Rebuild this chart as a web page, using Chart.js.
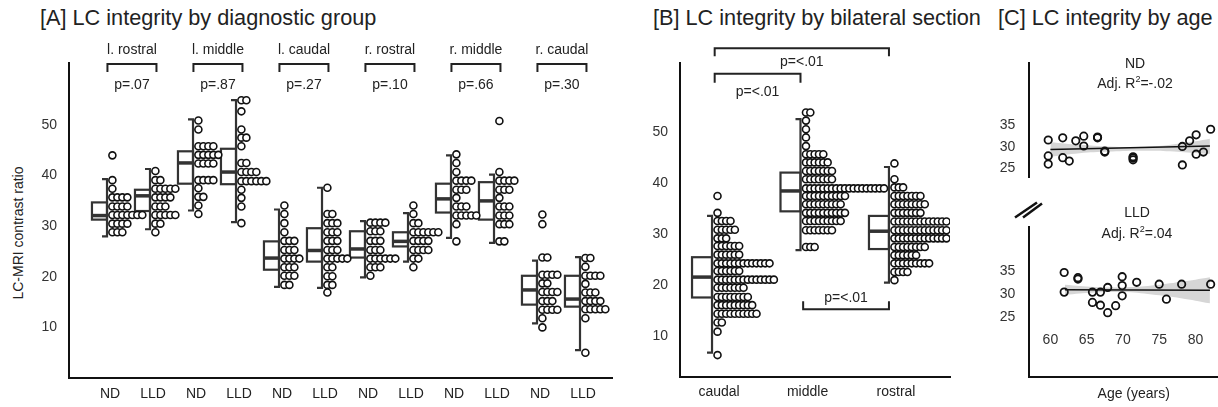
<!DOCTYPE html>
<html>
<head>
<meta charset="utf-8">
<script src="https://cdn.jsdelivr.net/npm/chart.js@4.4.1/dist/chart.umd.min.js"></script>
<style>
html, body { margin: 0; padding: 0; width: 1218px; height: 407px; overflow: hidden; background: #fff;
  font-family: "Liberation Sans", Arial, sans-serif; color: #222; }
.abs { position: absolute; white-space: nowrap; }
.title { font-size: 21.7px; line-height: 26px; top: 5px; }
.note { font-size: 14px; line-height: 16px; transform: translate(-50%, -50%); text-align: center; }
.note sup { font-size: 9px; vertical-align: 6px; line-height: 0; }
canvas { position: absolute; }
</style>
</head>
<body>
<div class="abs title" style="left:40px">[A] LC integrity by diagnostic group</div>
<div class="abs title" style="left:653px">[B] LC integrity by bilateral section</div>
<div class="abs title" style="left:998px">[C] LC integrity by age</div>
<div class="abs" style="left:18px;top:233px;font-size:14px;transform:translate(-50%,-50%) rotate(-90deg)">LC-MRI contrast ratio</div>

<canvas id="chartA" width="625" height="407" style="left:0;top:0"></canvas>
<canvas id="chartB" width="330" height="407" style="left:630px;top:0"></canvas>
<canvas id="chartND" width="269" height="200" style="left:975px;top:0"></canvas>
<canvas id="chartLLD" width="269" height="212" style="left:975px;top:195px"></canvas>

<div class="abs note" style="left:1135px;top:63px">ND</div>
<div class="abs note" style="left:1135px;top:83px">Adj. R<sup>2</sup>=-.02</div>
<div class="abs note" style="left:1137px;top:212px">LLD</div>
<div class="abs note" style="left:1137px;top:233px">Adj. R<sup>2</sup>=.04</div>
<svg class="abs" style="left:1010px;top:198px" width="40" height="26">
  <line x1="5" y1="19.5" x2="27" y2="4.5" stroke="#111" stroke-width="2.5"/>
  <line x1="13" y1="19.5" x2="32" y2="5.5" stroke="#111" stroke-width="2.5"/>
</svg>

<script>
// ---- [A] by diagnostic group ----
const sectionLabelsA = ['l. rostral', 'l. middle', 'l. caudal', 'r. rostral', 'r. middle', 'r. caudal'];
const groupLabelsA = ['ND', 'LLD', 'ND', 'LLD', 'ND', 'LLD', 'ND', 'LLD', 'ND', 'LLD', 'ND', 'LLD'];
const pValuesA = ['p=.07', 'p=.87', 'p=.27', 'p=.10', 'p=.66', 'p=.30'];
const yTicksA = [10, 20, 30, 40, 50];

// box statistics (whisker low, q1, median, q3, whisker high)
const loA  = [28.0, 29.4, 33.1, 30.8, 18.0, 17.8, 19.9, 23.0, 27.7, 26.7, 10.8, 5.5];
const q1A  = [31.3, 33.0, 38.4, 38.3, 21.4, 23.0, 23.8, 26.0, 32.7, 31.3, 14.5, 14.1];
const medA = [32.1, 36.0, 42.5, 40.7, 23.7, 25.2, 25.5, 27.0, 35.4, 35.0, 17.4, 15.6];
const q3A  = [34.7, 37.2, 44.8, 45.3, 27.0, 29.6, 29.0, 28.8, 38.4, 38.7, 20.2, 20.2];
const hiA  = [39.3, 41.3, 51.1, 54.9, 33.3, 37.6, 31.0, 32.6, 44.0, 40.2, 23.2, 23.9];

// dot rows: [value, number of dots]
const lRostralND  = [[44.0,1],[39.1,1],[37.4,1],[35.7,4],[33.9,4],[32.2,7],[30.5,4],[28.8,3]];
const lRostralLLD = [[40.9,1],[39.1,2],[37.4,5],[35.7,4],[33.9,3],[32.2,5],[30.5,2],[28.8,1]];
const lMiddleND   = [[50.9,1],[49.1,1],[45.8,4],[44.1,5],[42.4,4],[39.1,4],[37.5,1],[35.8,2],[34.1,1],[32.4,1]];
const lMiddleLLD  = [[54.9,2],[52.7,1],[49.1,1],[47.5,2],[45.8,1],[42.5,2],[40.7,4],[38.9,6],[37.2,1],[35.6,1],[33.9,1],[30.6,1]];
const lCaudalND   = [[34.1,1],[32.4,1],[30.6,1],[28.8,1],[27.1,3],[25.3,3],[23.6,4],[21.9,3],[20.2,3],[18.4,2]];
const lCaudalLLD  = [[37.6,1],[32.4,2],[30.6,3],[28.8,3],[27.1,3],[25.3,3],[23.6,5],[21.9,2],[20.1,2],[18.4,2],[16.9,1]];
const rRostralND  = [[30.7,4],[29.0,3],[27.1,3],[25.3,3],[23.6,6],[21.9,3],[20.2,1]];
const rRostralLLD = [[34.1,1],[32.4,1],[30.6,2],[28.8,6],[27.1,4],[25.3,4],[23.6,2],[21.9,1]];
const rMiddleND   = [[44.2,1],[42.5,1],[40.7,1],[39.0,4],[37.2,3],[35.6,1],[33.9,3],[32.1,5],[30.4,1],[27.0,1]];
const rMiddleLLD  = [[50.8,1],[40.7,1],[39.0,4],[37.2,3],[35.6,1],[33.9,3],[32.1,3],[30.4,3],[27.0,2]];
const rCaudalND   = [[32.3,1],[30.4,1],[23.8,2],[20.4,4],[18.7,2],[17.0,4],[15.2,3],[13.5,4],[11.8,1],[10.0,1]];
const rCaudalLLD  = [[23.7,2],[22.0,1],[20.2,4],[18.6,1],[16.9,3],[15.2,4],[13.6,5],[11.8,1],[5.0,1]];
const dotsA = [lRostralND, lRostralLLD, lMiddleND, lMiddleLLD, lCaudalND, lCaudalLLD,
               rRostralND, rRostralLLD, rMiddleND, rMiddleLLD, rCaudalND, rCaudalLLD];

// ---- [B] by bilateral section ----
const sectionsB = ['caudal', 'middle', 'rostral'];
const yTicksB = [10, 20, 30, 40, 50];
const loB  = [6.7, 26.8, 20.4];
const q1B  = [17.5, 34.4, 27.0];
const medB = [21.5, 38.4, 30.5];
const q3B  = [25.4, 42.0, 33.5];
const hiB  = [33.5, 52.5, 43.1];
const caudalDots  = [[37.4,1],[34.1,1],[32.5,4],[30.8,5],[29.1,3],[27.6,6],[25.9,6],[24.2,13],[22.7,6],
                     [21.0,14],[19.4,7],[17.6,8],[16.0,9],[14.3,10],[12.6,2],[10.8,1],[6.2,1]];
const middleDots  = [[53.8,2],[52.2,1],[50.5,1],[48.9,1],[47.2,1],[45.6,5],[44.0,6],[42.3,7],[40.7,7],
                     [38.9,19],[37.4,10],[35.8,9],[34.1,10],[32.5,9],[30.7,7],[27.4,3]];
const rostralDots = [[43.8,1],[40.7,1],[39.1,3],[37.4,7],[35.8,8],[34.1,7],[32.4,13],[30.7,13],[29.1,13],
                     [27.4,8],[25.8,6],[24.2,9],[22.5,4],[20.9,1]];
const dotsB = [caudalDots, middleDots, rostralDots];
const compFromB = [0, 0, 1];
const compToB   = [2, 1, 2];
const compPB    = ['p=<.01', 'p=<.01', 'p=<.01'];

// ---- [C] by age ----
const xTicksC = [60, 65, 70, 75, 80];
const yTicksC = [25, 30, 35];
const ndAge = [59.7, 59.7, 59.7, 61.7, 61.7, 62.6, 63.5, 64.6, 64.6, 66.5, 66.5, 67.5, 67.5,
               71.4, 71.4, 71.4, 78.2, 78.2, 79.2, 80.1, 80.1, 81.1, 82.1];
const ndLC  = [31.6, 27.9, 26.0, 32.1, 27.5, 26.7, 31.4, 32.5, 30.2, 32.1, 32.3, 28.8, 29.0,
               27.4, 27.0, 27.7, 30.1, 25.8, 31.4, 32.8, 28.3, 28.8, 34.1];
const lldAge = [61.9, 61.9, 63.8, 63.8, 65.8, 65.8, 66.9, 66.9, 67.9, 67.9, 69.0, 69.9, 69.9, 69.9,
                71.9, 75.0, 76.0, 78.1, 82.1];
const lldLC  = [34.6, 30.4, 33.5, 33.2, 30.4, 28.2, 30.4, 27.6, 31.4, 26.0, 27.5, 33.7, 31.8, 29.6,
                32.5, 32.1, 28.9, 32.1, 32.1];
const ndFitAge = [60, 82];
const ndFit    = [29.4, 30.2];
const lldFitAge = [62, 82];
const lldFit    = [30.9, 30.8];
const ndBandAge = [60, 64, 68, 72, 76, 80, 82];
const ndBandHi  = [31.1, 30.5, 30.1, 30.0, 30.4, 31.3, 31.9];
const ndBandLo  = [27.7, 28.5, 28.9, 29.1, 29.0, 28.6, 28.4];
const lldBandAge = [62, 66, 70, 74, 78, 82];
const lldBandHi  = [32.0, 31.5, 31.4, 31.8, 32.6, 33.6];
const lldBandLo  = [29.8, 30.3, 30.4, 29.9, 29.1, 28.0];

const FONT = '"Liberation Sans", Arial, sans-serif';
Chart.defaults.font.family = FONT;
Chart.defaults.color = '#333';

function dotPoints(groups, start, step) {
  const pts = [];
  groups.forEach((rows, g) => {
    rows.forEach(([v, n]) => {
      for (let k = 0; k < n; k++) pts.push({ x: g + start + k * step, y: v });
    });
  });
  return pts;
}

function pairs(xs, ys) {
  return xs.map((v, i) => ({ x: v, y: ys[i] }));
}

const boxPlugin = {
  id: 'boxes',
  beforeDatasetsDraw(chart, args, o) {
    const { ctx, scales: { x, y } } = chart;
    ctx.save();
    ctx.strokeStyle = '#333';
    o.med.forEach((m, i) => {
      const xr = x.getPixelForValue(i);
      const xl = x.getPixelForValue(i - o.width);
      ctx.lineWidth = 2.2;
      ctx.strokeRect(xl, y.getPixelForValue(o.q3[i]), xr - xl, y.getPixelForValue(o.q1[i]) - y.getPixelForValue(o.q3[i]));
      ctx.beginPath();
      ctx.moveTo(xr - 5, y.getPixelForValue(o.hi[i]));
      ctx.lineTo(xr, y.getPixelForValue(o.hi[i]));
      ctx.lineTo(xr, y.getPixelForValue(o.lo[i]));
      ctx.lineTo(xr - 5, y.getPixelForValue(o.lo[i]));
      ctx.stroke();
      ctx.lineWidth = 3.5;
      ctx.beginPath();
      ctx.moveTo(xl, y.getPixelForValue(m));
      ctx.lineTo(xr, y.getPixelForValue(m));
      ctx.stroke();
    });
    ctx.restore();
  }
};

function bracket(ctx, x0, x1, yb, tick) {
  ctx.beginPath();
  ctx.moveTo(x0, yb + tick);
  ctx.lineTo(x0, yb);
  ctx.lineTo(x1, yb);
  ctx.lineTo(x1, yb + tick);
  ctx.stroke();
}

function textSetup(ctx) {
  ctx.strokeStyle = '#222';
  ctx.lineWidth = 2;
  ctx.fillStyle = '#222';
  ctx.font = '14px ' + FONT;
  ctx.textAlign = 'center';
  ctx.textBaseline = 'middle';
}

const bracketsA = {
  id: 'bracketsA',
  afterDraw(chart) {
    const { ctx, chartArea, scales: { x } } = chart;
    ctx.save();
    textSetup(ctx);
    sectionLabelsA.forEach((lab, k) => {
      const x0 = x.getPixelForValue(2 * k + 0.01);
      const x1 = x.getPixelForValue(2 * k + 1.15);
      const yb = chartArea.top + 1;
      bracket(ctx, x0, x1, yb, 8);
      ctx.fillText(lab, (x0 + x1) / 2, yb - 14);
      ctx.fillText(pValuesA[k], (x0 + x1) / 2, yb + 21);
    });
    ctx.restore();
  }
};

const bracketsB = {
  id: 'bracketsB',
  afterDraw(chart, args, o) {
    const { ctx, scales: { x, y } } = chart;
    ctx.save();
    textSetup(ctx);
    compFromB.forEach((f, k) => {
      const x0 = x.getPixelForValue(f + 0.03);
      const x1 = x.getPixelForValue(compToB[k]);
      const yb = y.getPixelForValue(o.level[k]);
      bracket(ctx, x0, x1, yb, o.tick[k]);
      ctx.fillText(compPB[k], (x0 + x1) / 2, yb + o.text[k]);
    });
    ctx.restore();
  }
};

// age tick labels sit inside the plot, above the axis line
const innerAgeTicks = {
  id: 'innerAgeTicks',
  afterDraw(chart) {
    const { ctx, chartArea, scales: { x } } = chart;
    ctx.save();
    ctx.fillStyle = '#333';
    ctx.font = '14px ' + FONT;
    ctx.textAlign = 'center';
    ctx.textBaseline = 'middle';
    xTicksC.forEach(t => ctx.fillText(String(t), x.getPixelForValue(t), chartArea.bottom - 37));
    ctx.restore();
  }
};

const dotStyle = { pointRadius: 3.5, borderWidth: 1.6, borderColor: '#111', backgroundColor: '#fff', pointHoverRadius: 3.5 };

function fixed(v) { return s => { s.ticks = v.map(t => ({ value: t })); }; }

// Panel A
new Chart(document.getElementById('chartA'), {
  type: 'scatter',
  data: { datasets: [Object.assign({ data: dotPoints(dotsA, 0.125, 0.116) }, dotStyle)] },
  plugins: [boxPlugin, bracketsA],
  options: {
    responsive: false, animation: false, events: [],
    layout: { padding: { top: 63, right: 13, left: 0, bottom: 0 } },
    plugins: {
      legend: { display: false }, tooltip: { enabled: false },
      boxes: { lo: loA, q1: q1A, med: medA, q3: q3A, hi: hiA, width: 0.35 }
    },
    scales: {
      x: {
        type: 'linear', min: -0.884, max: 11.744,
        grid: { display: false, drawTicks: false },
        border: { display: true, color: '#111', width: 2 },
        afterBuildTicks: fixed(groupLabelsA.map((l, i) => i + 0.07)),
        afterFit: s => { s.height = 29; },
        ticks: { autoSkip: false, maxRotation: 0, padding: 8, color: '#222', font: { size: 14 },
                 callback: (v, i) => groupLabelsA[i] }
      },
      y: {
        min: 0, max: 62.25,
        grid: { display: false, drawTicks: false },
        border: { display: true, color: '#111', width: 2 },
        afterBuildTicks: fixed(yTicksA),
        afterFit: s => { s.width = 69; },
        ticks: { padding: 12, font: { size: 14 } }
      }
    }
  }
});

// Panel B
new Chart(document.getElementById('chartB'), {
  type: 'scatter',
  data: { datasets: [Object.assign({ data: dotPoints(dotsB, 0.062, 0.049) }, dotStyle)] },
  plugins: [boxPlugin, bracketsB],
  options: {
    responsive: false, animation: false, events: [],
    layout: { padding: { top: 63, right: 10, left: 0, bottom: 0 } },
    plugins: {
      legend: { display: false }, tooltip: { enabled: false },
      boxes: { lo: loB, q1: q1B, med: medB, q3: q3B, hi: hiB, width: 0.226 },
      bracketsB: { level: [66.4, 61.4, 15.2], tick: [8, 9, -8], text: [14, 18, -11] }
    },
    scales: {
      x: {
        type: 'linear', min: -0.362, max: 2.69,
        grid: { display: false, drawTicks: false },
        border: { display: true, color: '#111', width: 2 },
        afterBuildTicks: fixed(sectionsB.map((l, i) => i + 0.08)),
        afterFit: s => { s.height = 30; },
        ticks: { autoSkip: false, maxRotation: 0, padding: 7, color: '#222', font: { size: 14 },
                 callback: (v, i) => sectionsB[i] }
      },
      y: {
        min: 1.9, max: 63.5,
        grid: { display: false, drawTicks: false },
        border: { display: true, color: '#111', width: 2 },
        afterBuildTicks: fixed(yTicksB),
        afterFit: s => { s.width = 50; },
        ticks: { padding: 12, font: { size: 14 } }
      }
    }
  }
});

// Panel C (two stacked plots sharing the age axis)
function ageChart(id, ages, lc, fitAge, fit, bandAge, bandHi, bandLo, yMin, yMax, top, withX) {
  return new Chart(document.getElementById(id), {
    type: 'line',
    data: {
      datasets: [
        { data: pairs(ages, lc), showLine: false, pointRadius: 3.7, borderWidth: 1.8,
          borderColor: '#111', backgroundColor: 'rgba(0,0,0,0)' },
        { data: pairs(fitAge, fit), borderColor: '#111', borderWidth: 1.5, pointRadius: 0 },
        { data: pairs(bandAge, bandLo), borderWidth: 0, pointRadius: 0, tension: 0.4 },
        { data: pairs(bandAge, bandHi), borderWidth: 0, pointRadius: 0, tension: 0.4,
          fill: '-1', backgroundColor: '#d6d6d6' }
      ]
    },
    plugins: withX ? [innerAgeTicks] : [],
    options: {
      responsive: false, animation: false, events: [],
      layout: { padding: { top: top, right: 0, left: 0, bottom: withX ? 0 : 10 } },
      plugins: { legend: { display: false }, tooltip: { enabled: false } },
      scales: {
        x: {
          type: 'linear', min: 57.09, max: 85.9, display: withX,
          grid: { display: false, drawTicks: false },
          border: { display: true, color: '#111', width: 2 },
          afterBuildTicks: fixed(xTicksC),
          afterFit: s => { s.height = withX ? 29.7 : 0; },
          ticks: { display: false },
          title: { display: true, text: 'Age (years)', color: '#222', font: { size: 14 },
                   padding: { top: 0, bottom: 4 } }
        },
        y: {
          min: yMin, max: yMax,
          grid: { display: false, drawTicks: false },
          border: { display: true, color: '#111', width: 2 },
          afterBuildTicks: fixed(yTicksC),
          afterFit: s => { s.width = 54.3; },
          ticks: { padding: 14, font: { size: 14 } }
        }
      }
    }
  });
}

ageChart('chartND', ndAge, ndLC, ndFitAge, ndFit, ndBandAge, ndBandHi, ndBandLo, 22.86, 49.5, 63, false);
ageChart('chartLLD', lldAge, lldLC, lldFitAge, lldFit, lldBandAge, lldBandHi, lldBandLo, 12.16, 44.41, 31.7, true);
</script>
</body>
</html>
